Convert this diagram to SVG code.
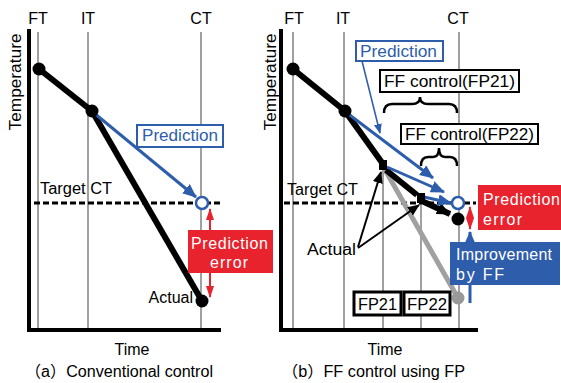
<svg xmlns="http://www.w3.org/2000/svg" width="561" height="383" viewBox="0 0 561 383">
  <style>
    text { font-family: "Liberation Sans", "Noto Sans CJK JP", sans-serif; font-size: 16px; fill: #000; }
    .axis { stroke: #000; stroke-width: 4; fill: none; }
    .grid { stroke: #a0a0a0; stroke-width: 2; fill: none; }
    .target { stroke: #000; stroke-width: 3; stroke-dasharray: 6 3; fill: none; }
    .path { stroke: #000; stroke-width: 6; fill: none; }
    .pathgray { stroke: #a0a0a0; stroke-width: 5; fill: none; }
    .pred { stroke: #2e5dab; stroke-width: 3; fill: none; }
    .blue { fill: #2e5dab; }
    .red { fill: #e8232d; }
    .wtxt { fill: #fff; }
    .btxt { fill: #2e5dab; }
    .label { text-anchor: middle; }
    .brace { stroke: #000; stroke-width: 2.5; fill: none; }
    .box { fill: #fff; stroke: #000; stroke-width: 2; }
    .fpbox { fill: #fff; stroke: #000; stroke-width: 3; }
    .predbox { fill: #fff; stroke: #2e5dab; stroke-width: 2; }
  </style>
  <defs>
    <marker id="ahBlue" markerUnits="userSpaceOnUse" markerWidth="14" markerHeight="12" refX="13" refY="6" orient="auto">
      <path d="M0,0 L14,6 L0,12 Z" fill="#2e5dab"/>
    </marker>
    <marker id="ahBlueSmall" markerUnits="userSpaceOnUse" markerWidth="10" markerHeight="8" refX="9" refY="4" orient="auto">
      <path d="M0,0 L10,4 L0,8 Z" fill="#2e5dab"/>
    </marker>
    <marker id="ahBlack" markerUnits="userSpaceOnUse" markerWidth="14" markerHeight="12" refX="13" refY="6" orient="auto">
      <path d="M0,0 L14,6 L0,12 Z" fill="#000"/>
    </marker>
    <marker id="ahBlackThin" markerUnits="userSpaceOnUse" markerWidth="12" markerHeight="10" refX="11" refY="5" orient="auto">
      <path d="M0,0 L12,5 L0,10 Z" fill="#000"/>
    </marker>
    <marker id="ahRed" markerUnits="userSpaceOnUse" markerWidth="12" markerHeight="8" refX="11" refY="4" orient="auto">
      <path d="M0,0 L12,4 L0,8 Z" fill="#e8232d"/>
    </marker>
    <marker id="ahRedStart" markerUnits="userSpaceOnUse" markerWidth="12" markerHeight="8" refX="1" refY="4" orient="auto">
      <path d="M12,0 L0,4 L12,8 Z" fill="#e8232d"/>
    </marker>
  </defs>

  <!-- ===== Panel (a): conventional control ===== -->
  <g id="panel-a-axes">
    <line class="grid" x1="38" y1="32" x2="38" y2="330"/>
    <line class="grid" x1="88" y1="32" x2="88" y2="330"/>
    <line class="grid" x1="201" y1="32" x2="201" y2="330"/>
    <line class="target" x1="34" y1="203" x2="221" y2="203"/>
    <line class="axis" x1="29" y1="29" x2="29" y2="332"/>
    <line class="axis" x1="27" y1="330" x2="221" y2="330"/>
    <text class="label" x="38" y="24">FT</text>
    <text class="label" x="88" y="24">IT</text>
    <text class="label" x="201" y="24">CT</text>
    <text class="label" transform="translate(21,82) rotate(-90)" textLength="97" lengthAdjust="spacingAndGlyphs">Temperature</text>
    <text x="40" y="194" textLength="72" lengthAdjust="spacingAndGlyphs">Target CT</text>
    <text class="label" x="132" y="355">Time</text>
    <text x="25" y="377" textLength="188" lengthAdjust="spacingAndGlyphs">（a）Conventional control</text>
  </g>

  <g id="panel-a-connectors">
    <line class="path" x1="39" y1="69" x2="92" y2="111" stroke-width="5"/>
    <line class="path" x1="92" y1="111" x2="202" y2="301"/>
    <line class="pred" x1="94" y1="113" x2="196" y2="197" marker-end="url(#ahBlue)"/>
    <line stroke="#e8232d" stroke-width="2" x1="210" y1="209" x2="210" y2="297" marker-start="url(#ahRedStart)" marker-end="url(#ahRed)"/>
  </g>

  <g id="a-ft"><circle cx="39" cy="69" r="6.5"/></g>
  <g id="a-it"><circle cx="92" cy="111" r="6.5"/></g>
  <g id="a-actual">
    <circle cx="202" cy="301" r="6.5"/>
    <text x="193" y="303" text-anchor="end">Actual</text>
  </g>
  <g id="a-target"><circle cx="202" cy="203" r="6" fill="#fff" stroke="#2e5dab" stroke-width="2.5"/></g>
  <g id="a-prediction">
    <rect class="predbox" x="137" y="125" width="86" height="22"/>
    <text class="btxt" x="142" y="141" textLength="76" lengthAdjust="spacingAndGlyphs">Prediction</text>
  </g>
  <g id="a-error">
    <rect class="red" x="188" y="230" width="85" height="43"/>
    <text class="wtxt" x="191" y="249" textLength="77">Prediction</text>
    <text class="wtxt" x="210" y="268" textLength="38">error</text>
  </g>

  <!-- ===== Panel (b): FF control using FP ===== -->
  <g id="panel-b-axes">
    <line class="grid" x1="293" y1="32" x2="293" y2="330"/>
    <line class="grid" x1="344" y1="32" x2="344" y2="330"/>
    <line class="grid" x1="459" y1="32" x2="459" y2="330"/>
    <line class="grid" x1="383" y1="168" x2="383" y2="330"/>
    <line class="grid" x1="421" y1="200" x2="421" y2="330"/>
    <line class="target" x1="284" y1="203" x2="476" y2="203"/>
    <line class="axis" x1="281" y1="29" x2="281" y2="332"/>
    <line class="axis" x1="279" y1="330" x2="478" y2="330"/>
    <text class="label" x="294" y="24">FT</text>
    <text class="label" x="343" y="24">IT</text>
    <text class="label" x="458" y="24">CT</text>
    <text class="label" transform="translate(276,82) rotate(-90)" textLength="97" lengthAdjust="spacingAndGlyphs">Temperature</text>
    <text x="287" y="195" textLength="71" lengthAdjust="spacingAndGlyphs">Target CT</text>
    <text class="label" x="385" y="355">Time</text>
    <text x="282" y="377" textLength="183" lengthAdjust="spacingAndGlyphs">（b）FF control using FP</text>
  </g>

  <g id="panel-b-connectors">
    <line class="path" x1="293" y1="69" x2="345" y2="111" stroke-width="5"/>
    <line class="path" x1="345" y1="111" x2="383" y2="164"/>
    <line class="pathgray" x1="384" y1="168" x2="458" y2="298"/>
    <line class="path" x1="386" y1="170" x2="417" y2="195"/>
    <line class="path" x1="424" y1="202" x2="450" y2="214" stroke-width="5" marker-end="url(#ahBlack)"/>
    <line class="pred" x1="347" y1="113" x2="433" y2="178" marker-end="url(#ahBlue)"/>
    <line class="pred" x1="387" y1="167" x2="444" y2="192" marker-end="url(#ahBlue)"/>
    <line class="pred" x1="424" y1="197" x2="451" y2="203" stroke-width="5" marker-end="url(#ahBlue)"/>
    <line stroke="#2e5dab" stroke-width="1.5" x1="362" y1="61" x2="380" y2="133" marker-end="url(#ahBlueSmall)"/>
    <line stroke="#000" stroke-width="2" x1="358" y1="247" x2="381" y2="172" marker-end="url(#ahBlackThin)"/>
    <line stroke="#000" stroke-width="2" x1="358" y1="248" x2="419" y2="205" marker-end="url(#ahBlackThin)"/>
    <line stroke="#2e5dab" stroke-width="3" x1="470" y1="303" x2="470" y2="232" marker-end="url(#ahBlue)"/>
    <line stroke="#e8232d" stroke-width="2" x1="470" y1="207" x2="470" y2="229" marker-start="url(#ahRedStart)" marker-end="url(#ahRed)"/>
  </g>

  <g id="b-ft"><circle cx="293" cy="69" r="6.5"/></g>
  <g id="b-it"><circle cx="345" cy="111" r="6.5"/></g>
  <g id="b-fp21-point"><rect x="379" y="160" width="8" height="10"/></g>
  <g id="b-fp22-point"><rect x="417" y="193" width="8" height="10"/></g>
  <g id="b-actual-ff"><circle cx="458" cy="219" r="6.5"/></g>
  <g id="b-actual-noff"><circle cx="458" cy="298" r="6.5" fill="#999"/></g>
  <g id="b-target"><circle cx="458" cy="203" r="6" fill="#fff" stroke="#2e5dab" stroke-width="2.5"/></g>
  <g id="b-actual-label"><text x="307" y="255" textLength="49" lengthAdjust="spacingAndGlyphs">Actual</text></g>
  <g id="b-prediction">
    <rect class="predbox" x="356" y="41" width="87" height="20"/>
    <text class="btxt" x="360" y="57" textLength="77" lengthAdjust="spacingAndGlyphs">Prediction</text>
  </g>
  <g id="b-ff21">
    <rect class="box" x="380" y="70" width="139" height="22"/>
    <text x="384" y="87" textLength="131" lengthAdjust="spacingAndGlyphs">FF control(FP21)</text>
    <path class="brace" d="M384,113 Q384,104 392,104 L412,104 Q420,104 420,97 Q420,104 428,104 L449,104 Q457,104 457,113"/>
  </g>
  <g id="b-ff22">
    <rect class="box" x="401" y="124" width="137" height="20"/>
    <text x="405" y="140" textLength="129" lengthAdjust="spacingAndGlyphs">FF control(FP22)</text>
    <path class="brace" d="M421,166 Q421,157 428,157 L433,157 Q439,157 439,148 Q439,157 445,157 L450,157 Q457,157 457,166"/>
  </g>
  <g id="b-error">
    <rect class="red" x="478" y="185" width="83" height="45"/>
    <text class="wtxt" x="483" y="205" textLength="77">Prediction</text>
    <text class="wtxt" x="483" y="225" textLength="39">error</text>
  </g>
  <g id="b-improvement">
    <rect class="blue" x="450" y="242" width="110" height="43"/>
    <text class="wtxt" x="456" y="260" textLength="96">Improvement</text>
    <text class="wtxt" x="456" y="280" textLength="48">by FF</text>
  </g>
  <g id="b-fp21-box">
    <rect class="fpbox" x="354" y="292" width="47" height="23"/>
    <text x="358" y="310" font-size="17" textLength="39" lengthAdjust="spacingAndGlyphs">FP21</text>
  </g>
  <g id="b-fp22-box">
    <rect class="fpbox" x="404" y="292" width="46" height="23"/>
    <text x="407" y="310" font-size="17" textLength="40" lengthAdjust="spacingAndGlyphs">FP22</text>
  </g>
</svg>
